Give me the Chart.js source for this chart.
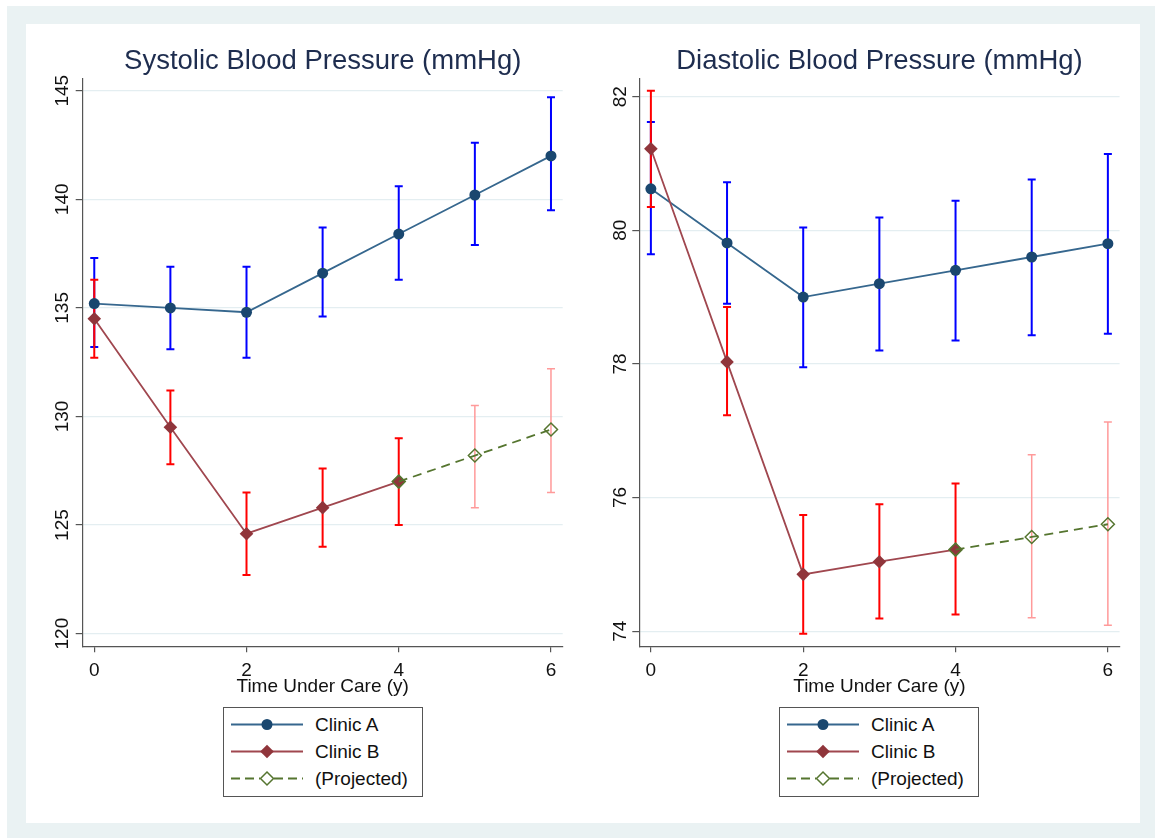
<!DOCTYPE html>
<html>
<head>
<meta charset="utf-8">
<title>Blood pressure by time under care</title>
<script src="https://cdn.jsdelivr.net/npm/chart.js@4.4.1/dist/chart.umd.min.js"></script>
<style>
  body { margin: 0; background: #fff; font-family: 'Liberation Sans', Arial, sans-serif; }
  #outer { position: absolute; left: 7px; top: 6px; width: 1148px; height: 832px; background: #eaf2f3; }
  #inner { position: absolute; left: 26px; top: 24px; width: 1114px; height: 799px; background: #fff; }
  canvas { position: absolute; top: 24px; }
  .legend { position: absolute; top: 707px; width: 200px; height: 90px; box-sizing: border-box;
            border: 1px solid #555; padding-top: 3px; }
  .row { display: flex; align-items: center; height: 27px; font-size: 19px; color: #111; }
  .row svg { margin-left: 7px; margin-right: 12px; }
</style>
</head>
<body>
<div id="outer"></div>
<div id="inner"></div>
<canvas id="sbpChart" width="556" height="674" style="left:26px"></canvas>
<canvas id="dbpChart" width="556" height="674" style="left:582px"></canvas>

<div class="legend" id="legLeft" style="left:223px"></div>
<div class="legend" id="legRight" style="left:779px"></div>

<script>
// years under care
const years = [0, 1, 2, 3, 4, 5, 6];
const xTicks = [0, 2, 4, 6];

// systolic (mmHg)
const sbpA     = [135.2, 135.0, 134.8, 136.6, 138.4, 140.2, 142.0];
const sbpALow  = [133.2, 133.1, 132.7, 134.6, 136.3, 137.9, 139.5];
const sbpAHigh = [137.3, 136.9, 136.9, 138.7, 140.6, 142.6, 144.7];
const sbpB     = [134.5, 129.5, 124.6, 125.8, 127.0, null, null];
const sbpProj  = [null, null, null, null, 127.0, 128.2, 129.4];
const sbpBLow  = [132.7, 127.8, 122.7, 124.0, 125.0, 125.8, 126.5];
const sbpBHigh = [136.3, 131.2, 126.5, 127.6, 129.0, 130.5, 132.2];
const sbpTicks = [120, 125, 130, 135, 140, 145];

// diastolic (mmHg)
const dbpA     = [80.62, 79.81, 79.0, 79.2, 79.4, 79.6, 79.8];
const dbpALow  = [79.64, 78.9, 77.95, 78.2, 78.35, 78.43, 78.45];
const dbpAHigh = [81.62, 80.72, 80.04, 80.19, 80.44, 80.76, 81.14];
const dbpB     = [81.22, 78.03, 74.85, 75.04, 75.22, null, null];
const dbpProj  = [null, null, null, null, 75.22, 75.41, 75.6];
const dbpBLow  = [80.35, 77.23, 73.96, 74.19, 74.25, 74.2, 74.09];
const dbpBHigh = [82.09, 78.85, 75.74, 75.9, 76.21, 76.64, 77.13];
const dbpTicks = [74, 76, 78, 80, 82];

const seriesNames = ['Clinic A', 'Clinic B', '(Projected)'];

const FONT = "'Liberation Sans', Arial, sans-serif";
const navy = '#1a476f', navyLine = '#36678e';
const maroon = '#90353b', maroonLine = '#a0474f';
const green = '#55752f';
const lastObserved = 4;

function pts(arr) {
  return years.map((x, i) => ({ x: x, y: arr[i] })).filter(p => p.y !== null);
}

// vertical error bars with caps, drawn through the chart's scales
const errorBars = {
  id: 'errorBars',
  beforeDatasetsDraw(chart, args, opts) {
    const ctx = chart.ctx;
    const xs = chart.scales.x, ys = chart.scales.y;
    ctx.save();
    opts.sets.forEach(set => {
      set.low.forEach((lo, i) => {
        const hi = set.high[i];
        const px = xs.getPixelForValue(years[i]);
        const y1 = ys.getPixelForValue(lo), y2 = ys.getPixelForValue(hi);
        const faded = set.fadeAfter !== undefined && years[i] > set.fadeAfter;
        ctx.strokeStyle = faded ? set.fadeColor : set.color;
        ctx.lineWidth = faded ? 1.5 : 2;
        ctx.beginPath();
        ctx.moveTo(px, y1); ctx.lineTo(px, y2);
        ctx.moveTo(px - 4, y1); ctx.lineTo(px + 4, y1);
        ctx.moveTo(px - 4, y2); ctx.lineTo(px + 4, y2);
        ctx.stroke();
      });
    });
    ctx.restore();
  }
};

function makeChart(id, title, a, aLo, aHi, b, proj, bLo, bHi, yMin, yMax, yTicks, axisW, labelPad, padRight) {
  return new Chart(document.getElementById(id), {
    type: 'line',
    data: {
      datasets: [
        { label: seriesNames[0], data: pts(a), borderColor: navyLine, borderWidth: 1.8,
          pointStyle: 'circle', pointRadius: 5.5, pointBackgroundColor: navy, pointBorderColor: navy,
          pointBorderWidth: 0, order: 2 },
        { label: seriesNames[1], data: pts(b), borderColor: maroonLine, borderWidth: 1.8,
          pointStyle: 'rectRot', pointRadius: 6.8, pointBackgroundColor: maroon, pointBorderColor: maroon,
          pointBorderWidth: 0, order: 1 },
        { label: seriesNames[2], data: pts(proj), borderColor: green, borderWidth: 1.8, borderDash: [9, 6],
          pointStyle: 'rectRot', pointRadius: 6.5, pointBackgroundColor: 'rgba(0,0,0,0)',
          pointBorderColor: green, pointBorderWidth: 1.5, order: 0 }
      ]
    },
    options: {
      responsive: false,
      animation: false,
      events: [],
      layout: { padding: { top: 21, left: 0, right: padRight, bottom: 0 } },
      plugins: {
        legend: { display: false },
        tooltip: { enabled: false },
        title: {
          display: true, text: title, fullSize: false, color: '#1e2d4f',
          font: { family: FONT, size: 27.5, weight: 'normal' },
          padding: { top: 0, bottom: 0.6 }
        },
        errorBars: {
          sets: [
            { low: aLo, high: aHi, color: '#0000ff' },
            { low: bLo, high: bHi, color: '#ff0000', fadeColor: '#ff9a9a', fadeAfter: lastObserved }
          ]
        }
      },
      scales: {
        x: {
          type: 'linear', min: -0.152, max: 6.154,
          afterBuildTicks: s => { s.ticks = xTicks.map(v => ({ value: v })); },
          border: { color: '#555', width: 1.2 },
          grid: { drawOnChartArea: false, tickLength: 6, tickColor: '#555', lineWidth: 1.2 },
          ticks: { color: '#111', padding: 6.7, autoSkip: false, maxRotation: 0,
                   font: { family: FONT, size: 19 } },
          title: { display: true, text: 'Time Under Care (y)', color: '#111',
                   font: { family: FONT, size: 19 }, padding: { top: -13.2, bottom: 0 } }
        },
        y: {
          type: 'linear', min: yMin, max: yMax,
          afterBuildTicks: s => { s.ticks = yTicks.map(v => ({ value: v })); },
          afterFit: s => { s.width = axisW; },
          border: { color: '#555', width: 1.2 },
          grid: { color: '#e4eef1', lineWidth: 1.2, tickLength: 7, tickColor: '#555' },
          ticks: { color: '#111', minRotation: 90, maxRotation: 90, crossAlign: 'center',
                   padding: labelPad, autoSkip: false, font: { family: FONT, size: 19 } }
        }
      }
    },
    plugins: [errorBars]
  });
}

makeChart('sbpChart', 'Systolic Blood Pressure (mmHg)', sbpA, sbpALow, sbpAHigh, sbpB, sbpProj,
          sbpBLow, sbpBHigh, 119.42, 145.56, sbpTicks, 56.7, -3, 19.3);
makeChart('dbpChart', 'Diastolic Blood Pressure (mmHg)', dbpA, dbpALow, dbpAHigh, dbpB, dbpProj,
          dbpBLow, dbpBHigh, 73.775, 82.27, dbpTicks, 57.3, 0.5, 18.4);

// legend boxes (html) under each panel
function sample(kind) {
  if (kind === 0) {
    return `<svg width="72" height="27"><line x1="0" y1="13.5" x2="72" y2="13.5" stroke="${navyLine}" stroke-width="1.8"/>` +
           `<circle cx="36" cy="13.5" r="5.5" fill="${navy}"/></svg>`;
  }
  if (kind === 1) {
    return `<svg width="72" height="27"><line x1="0" y1="13.5" x2="72" y2="13.5" stroke="${maroonLine}" stroke-width="1.8"/>` +
           `<polygon points="29.2,13.5 36,6.7 42.8,13.5 36,20.3" fill="${maroon}"/></svg>`;
  }
  return `<svg width="72" height="27"><line x1="0" y1="13.5" x2="29" y2="13.5" stroke="${green}" stroke-width="1.8" stroke-dasharray="9 5"/>` +
         `<line x1="43" y1="13.5" x2="72" y2="13.5" stroke="${green}" stroke-width="1.8" stroke-dasharray="9 5"/>` +
         `<polygon points="29.5,13.5 36,7 42.5,13.5 36,20" fill="none" stroke="${green}" stroke-width="1.5"/></svg>`;
}
['legLeft', 'legRight'].forEach(id => {
  document.getElementById(id).innerHTML = seriesNames
    .map((name, k) => `<div class="row">${sample(k)}<span>${name}</span></div>`).join('');
});
</script>
</body>
</html>
